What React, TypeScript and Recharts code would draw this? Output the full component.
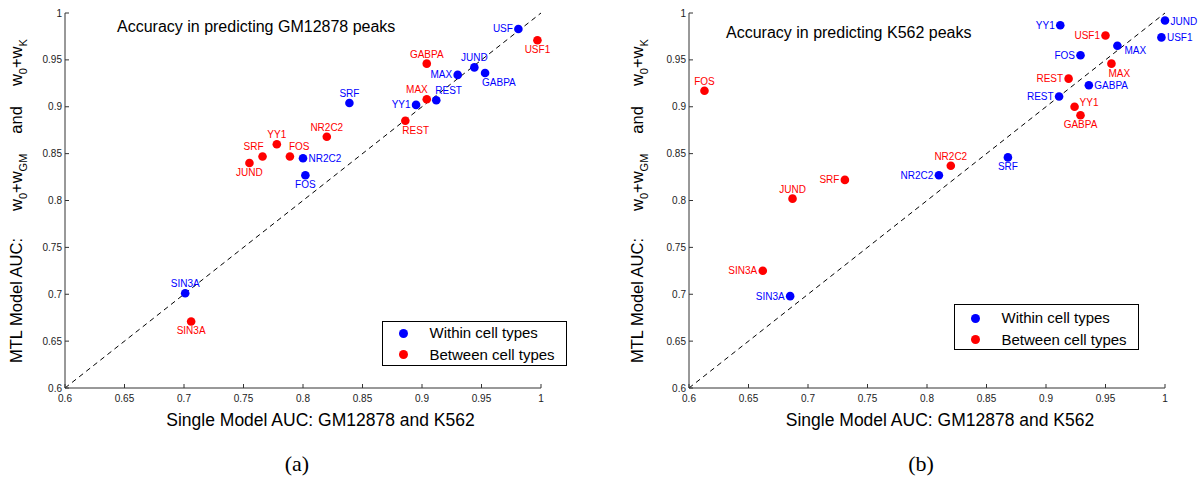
import React from "react";
import { ScatterChart, Scatter, XAxis, YAxis, ReferenceLine, Legend } from "recharts";

const TICKS = [0.6, 0.65, 0.7, 0.75, 0.8, 0.85, 0.9, 0.95, 1];
const DOMAIN: [number, number] = [0.6, 1];

// (a) accuracy in predicting GM12878 peaks
const gmWithinNames = ["USF", "JUND", "GABPA", "MAX", "REST", "YY1", "SRF", "NR2C2", "FOS", "SIN3A"];
const gmWithinX = [0.981, 0.944, 0.953, 0.93, 0.912, 0.895, 0.839, 0.8, 0.802, 0.701];
const gmWithinY = [0.983, 0.942, 0.936, 0.934, 0.907, 0.902, 0.904, 0.845, 0.827, 0.701];
const gmWithinPos = ["w", "n", "se", "w", "ne", "w", "n", "e", "s", "n"];

const gmBetweenNames = ["USF1", "GABPA", "MAX", "REST", "NR2C2", "YY1", "FOS", "SRF", "JUND", "SIN3A"];
const gmBetweenX = [0.997, 0.904, 0.904, 0.886, 0.82, 0.778, 0.789, 0.766, 0.755, 0.706];
const gmBetweenY = [0.971, 0.946, 0.908, 0.885, 0.868, 0.86, 0.847, 0.847, 0.84, 0.671];
const gmBetweenPos = ["s", "n", "nw", "se", "n", "n", "ne", "nw", "s", "s"];

// (b) accuracy in predicting K562 peaks
const kWithinNames = ["JUND", "USF1", "YY1", "MAX", "FOS", "GABPA", "REST", "SRF", "NR2C2", "SIN3A"];
const kWithinX = [1.0, 0.997, 0.912, 0.96, 0.929, 0.936, 0.911, 0.868, 0.81, 0.685];
const kWithinY = [0.992, 0.974, 0.987, 0.965, 0.955, 0.923, 0.911, 0.846, 0.827, 0.698];
const kWithinPos = ["e", "e", "w", "ebelow", "w", "e", "w", "s", "w", "w"];

const kBetweenNames = ["FOS", "USF1", "MAX", "REST", "YY1", "GABPA", "NR2C2", "SRF", "JUND", "SIN3A"];
const kBetweenX = [0.613, 0.95, 0.955, 0.919, 0.924, 0.929, 0.82, 0.731, 0.687, 0.662];
const kBetweenY = [0.917, 0.976, 0.946, 0.93, 0.9, 0.891, 0.837, 0.822, 0.802, 0.725];
const kBetweenPos = ["n", "w", "se", "w", "eabove", "s", "n", "w", "n", "w"];

const SERIES_ORDER = ["Within cell types", "Between cell types"];

const FONT = "'Liberation Sans', Arial, Helvetica, sans-serif";
const BLUE = "#0000ff";
const RED = "#ff0000";
const AXIS = "#333";

type Row = { x: number; y: number; name: string; pos: string };
const rows = (names: string[], xs: number[], ys: number[], pos: string[]): Row[] =>
  names.map((name, i) => ({ x: xs[i], y: ys[i], name, pos: pos[i] }));

// label placement around a dot: [dx, dy(baseline), anchor]
const LABEL_OFF: Record<string, [number, number, "start" | "middle" | "end"]> = {
  n: [0, -6, "middle"],
  s: [0, 13, "middle"],
  e: [5.5, 4, "start"],
  w: [-5.5, 3.5, "end"],
  ne: [-1, -6, "start"],
  nw: [1, -6, "end"],
  se: [-3, 13, "start"],
  ebelow: [7, 8.5, "start"],
  eabove: [5, -1, "start"],
};

const dotShape = (color: string) => (p: any) => {
  const { cx, cy, payload } = p;
  const [dx, dy, anchor] = LABEL_OFF[payload.pos] || LABEL_OFF.e;
  return (
    <g>
      <circle cx={cx} cy={cy} r={4.3} fill={color} />
      <text x={cx + dx} y={cy + dy} textAnchor={anchor} fontSize={10} fontFamily={FONT} fill={color}>
        {payload.name}
      </text>
    </g>
  );
};

const LegendBox = ({ payload, rowTop }: any) => {
  const items = [...(payload || [])].sort(
    (a: any, b: any) => SERIES_ORDER.indexOf(a.value) - SERIES_ORDER.indexOf(b.value)
  );
  return (
    <div style={{
      border: "1.5px solid #000", background: "#fff", width: "100%", height: "100%",
      boxSizing: "border-box", position: "relative", fontFamily: FONT, fontSize: 15, color: "#000",
    }}>
      {items.map((e: any, i: number) => (
        <div key={i} style={{ position: "absolute", left: 0, top: rowTop + 21.5 * i - 9, height: 18, width: "100%" }}>
          <span style={{ position: "absolute", left: 16, top: 4.5, width: 9, height: 9, borderRadius: "50%", background: e.color }} />
          <span style={{ position: "absolute", left: 47, top: 0, lineHeight: "18px", whiteSpace: "nowrap" }}>{e.value}</span>
        </div>
      ))}
    </div>
  );
};

const YLabel = ({ bx }: { bx: number }) => {
  const by = 363;
  return (
    <text transform={`rotate(-90 ${bx} ${by})`} x={bx} y={by} fontSize={16.5} fontFamily={FONT} fill="#000">
      <tspan>MTL Model AUC:</tspan>
      <tspan dx={27}>w</tspan>
      <tspan fontSize={11} dy={5}>0</tspan>
      <tspan dy={-5}>+w</tspan>
      <tspan fontSize={11} dy={5}>GM</tspan>
      <tspan dx={20} dy={-5}>and</tspan>
      <tspan dx={20}>w</tspan>
      <tspan fontSize={11} dy={5}>0</tspan>
      <tspan dy={-5}>+w</tspan>
      <tspan fontSize={11} dy={5}>K</tspan>
    </text>
  );
};

function Panel({ left, width, within, between, title, titleLeft, titleY, caption, captionX,
  legendLeft, legendTop, legendRow, xLabelDx, yLabelX }: any) {
  const fmt = (v: number) => String(v);
  return (
    <div style={{ position: "absolute", left, top: 0, width, height: 477 }}>
      <ScatterChart width={width} height={477} margin={{ top: 13, right: width - 541, bottom: 0, left: 0 }}>
        <XAxis
          type="number" dataKey="x" domain={DOMAIN} ticks={TICKS} interval={0} height={89}
          tickFormatter={fmt} tickSize={-4} tickMargin={10.5}
          stroke={AXIS} tick={{ fontSize: 10, fill: "#222", fontFamily: FONT }}
          label={{
            content: () => (
              <text x={303 + xLabelDx} y={426} textAnchor="middle" fontSize={17.5} fontFamily={FONT} fill="#000">
                Single Model AUC: GM12878 and K562
              </text>
            ),
          }}
        />
        <YAxis
          type="number" dataKey="y" domain={DOMAIN} ticks={TICKS} interval={0} width={65}
          tickFormatter={fmt} tickSize={-4} tickMargin={7}
          stroke={AXIS} tick={{ fontSize: 10, fill: "#222", fontFamily: FONT }}
          label={{ content: () => <YLabel bx={yLabelX} /> }}
        />
        <ReferenceLine
          segment={[{ x: DOMAIN[0], y: DOMAIN[0] }, { x: DOMAIN[1], y: DOMAIN[1] }]}
          stroke="#000" strokeWidth={1} strokeDasharray="5 4"
        />
        <Legend
          layout="horizontal" verticalAlign="middle" align="center"
          wrapperStyle={{ left: legendLeft, top: legendTop, width: 185, height: 45.5 }}
          content={(props: any) => <LegendBox {...props} rowTop={legendRow} />}
        />
        <Scatter name="Within cell types" data={within} fill={BLUE} shape={dotShape(BLUE)} isAnimationActive={false} />
        <Scatter name="Between cell types" data={between} fill={RED} shape={dotShape(RED)} isAnimationActive={false} />
      </ScatterChart>
      <div style={{ position: "absolute", left: titleLeft, top: titleY - 9, lineHeight: "18px", fontSize: 16, fontFamily: FONT, whiteSpace: "nowrap", color: "#000" }}>
        {title}
      </div>
      <div style={{ position: "absolute", left: captionX - 30, width: 60, top: 451, lineHeight: "25px", textAlign: "center", fontSize: 22, fontFamily: "'Liberation Serif', 'Times New Roman', serif", color: "#000" }}>
        {caption}
      </div>
    </div>
  );
}

export default function App() {
  return (
    <div style={{ position: "absolute", left: 0, top: 0, width: 1201, height: 477, background: "#fff", overflow: "hidden" }}>
      <Panel
        left={0} width={600}
        within={rows(gmWithinNames, gmWithinX, gmWithinY, gmWithinPos)}
        between={rows(gmBetweenNames, gmBetweenX, gmBetweenY, gmBetweenPos)}
        title="Accuracy in predicting GM12878 peaks" titleLeft={117} titleY={27}
        caption="(a)" captionX={297}
        legendLeft={381.5} legendTop={320.5} legendRow={11.5}
        xLabelDx={17.5} yLabelX={22}
      />
      <Panel
        left={624} width={577}
        within={rows(kWithinNames, kWithinX, kWithinY, kWithinPos)}
        between={rows(kBetweenNames, kBetweenX, kBetweenY, kBetweenPos)}
        title="Accuracy in predicting K562 peaks" titleLeft={102} titleY={33}
        caption="(b)" captionX={297}
        legendLeft={329.5} legendTop={304} legendRow={13}
        xLabelDx={13} yLabelX={19}
      />
    </div>
  );
}
